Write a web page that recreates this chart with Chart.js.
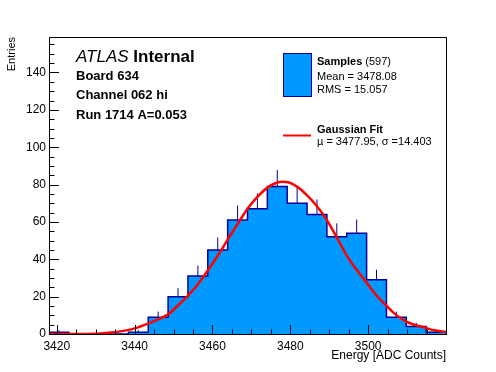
<!DOCTYPE html>
<html lang="en">
<head>
    <meta charset="UTF-8">
    <title>Board 634 Channel 062 hi</title>
    <script src="https://cdn.jsdelivr.net/npm/chart.js"></script>
    <style>
        html, body { margin: 0; padding: 0; background: #ffffff; }
        .chart-wrapper { position: relative; width: 496px; height: 372px; }
    </style>
</head>
<body>
    <div class="chart-wrapper">
        <canvas id="energyChart"></canvas>
    </div>

    <script>
        // Histogram binning (ADC counts)
        const binLow = 3418;
        const binWidth = 5.1;
        const binCounts = [1, 0, 0, 0, 1, 9, 20, 31, 45, 61, 67, 79, 70, 64, 52, 54, 29, 9, 4, 1];
        const binErrors = [1, 0, 0, 0, 1, 3, 4.5, 5.6, 6.7, 7.8, 8.2, 8.9, 8.4, 8, 7.2, 7.3, 5.4, 3, 2, 1];

        // Gaussian fit curve
        const fitX = [3418, 3425, 3430, 3434, 3437.5, 3440.5, 3443.5, 3446, 3448.6, 3451, 3453.7, 3456,
                      3458.8, 3461.4, 3463.9, 3466.5, 3469, 3471.6, 3474.2, 3476.5, 3478, 3479.5, 3482,
                      3484.2, 3486.8, 3489.4, 3492, 3494.5, 3497, 3499.6, 3502, 3504.6, 3507, 3509.7,
                      3512, 3514.8, 3517, 3520];
        const fitY = [0, 0, 0.2, 0.8, 1.8, 3.3, 5.6, 7.8, 10.5, 15, 20.5, 26,
                      34, 42, 50.5, 59, 67, 73.5, 78.5, 81, 81.5, 81.2, 78.5,
                      74.5, 68.5, 61, 51.5, 42, 34.5, 27.5, 21, 15.3, 10.5, 6.8,
                      4.8, 3.3, 2, 1];

        // Axis settings
        const xMin = 3418, xMax = 3520, xStep = 20, xMinor = 5;
        const yMin = 0, yMax = 159, yStep = 20, yMinor = 5;

        const FONT = "'Liberation Sans', Arial, Helvetica, sans-serif";
        const FILL_BLUE = '#0099ff';
        const LINE_BLUE = '#000099';

        // Build histogram step points from bins
        const histPoints = binCounts.map((n, i) => ({x: binLow + i * binWidth, y: n}));
        histPoints.push({x: binLow + binCounts.length * binWidth, y: binCounts[binCounts.length - 1]});

        // Error bars above each bin (upper half only, like the reference)
        const errPoints = [];
        binCounts.forEach((n, i) => {
            if (n <= 0) return;
            const c = binLow + (i + 0.5) * binWidth;
            errPoints.push({x: c, y: n}, {x: c, y: n + binErrors[i]}, {x: c, y: null});
        });

        const fitPoints = fitX.map((x, i) => ({x: x, y: fitY[i]}));

        // ROOT-style frame, inner ticks, labels and legend
        const rootStyle = {
            id: 'rootStyle',
            afterDraw(chart) {
                const ctx = chart.ctx;
                const area = chart.chartArea;
                const xs = chart.scales.x;
                const ys = chart.scales.y;

                ctx.save();
                ctx.strokeStyle = '#000000';
                ctx.lineWidth = 1;
                ctx.strokeRect(Math.round(area.left) + 0.5, Math.round(area.top) + 0.5,
                    Math.round(area.right - area.left), Math.round(area.bottom - area.top));

                ctx.beginPath();
                for (let v = Math.ceil(xMin / xMinor) * xMinor; v <= xMax; v += xMinor) {
                    const px = Math.round(xs.getPixelForValue(v)) + 0.5;
                    const len = (v % xStep === 0) ? 9 : 4.5;
                    ctx.moveTo(px, area.bottom);
                    ctx.lineTo(px, area.bottom - len);
                }
                for (let v = yMin; v <= yMax; v += yMinor) {
                    const py = Math.round(ys.getPixelForValue(v)) + 0.5;
                    const len = (v % yStep === 0) ? 10 : 5.5;
                    ctx.moveTo(area.left, py);
                    ctx.lineTo(area.left + len, py);
                }
                ctx.stroke();

                // top-left labels
                ctx.fillStyle = '#000000';
                ctx.textBaseline = 'middle';
                ctx.textAlign = 'left';
                ctx.font = 'italic 17px ' + FONT;
                ctx.fillText('ATLAS', 76, 57);
                const w = ctx.measureText('ATLAS ').width;
                ctx.font = 'bold 17px ' + FONT;
                ctx.fillText('Internal', 76 + w, 57);
                ctx.font = 'bold 13px ' + FONT;
                ctx.fillText('Board 634', 76, 76);
                ctx.fillText('Channel 062 hi', 76, 95.5);
                ctx.fillText('Run 1714 A=0.053', 76, 115);

                // legend
                ctx.fillStyle = FILL_BLUE;
                ctx.fillRect(283.5, 53.5, 28, 43);
                ctx.strokeStyle = LINE_BLUE;
                ctx.strokeRect(283.5, 53.5, 28, 43);

                ctx.fillStyle = '#000000';
                ctx.font = 'bold 11px ' + FONT;
                ctx.fillText('Samples', 317, 62);
                const sw = ctx.measureText('Samples').width;
                ctx.font = '11px ' + FONT;
                ctx.fillText(' (597)', 317 + sw, 62);
                ctx.fillText('Mean = 3478.08', 317, 77);
                ctx.fillText('RMS = 15.057', 317, 90);

                ctx.strokeStyle = '#ff0000';
                ctx.lineWidth = 2;
                ctx.beginPath();
                ctx.moveTo(283, 135.5);
                ctx.lineTo(311, 135.5);
                ctx.stroke();

                ctx.font = 'bold 11px ' + FONT;
                ctx.fillText('Gaussian Fit', 317, 129.5);
                ctx.font = '11px ' + FONT;
                ctx.fillText('\u00b5 = 3477.95, \u03c3 =14.403', 317, 142);
                ctx.restore();
            }
        };

        const ctx = document.getElementById('energyChart').getContext('2d');
        new Chart(ctx, {
            type: 'line',
            data: {
                datasets: [
                    {
                        label: 'Gaussian Fit',
                        data: fitPoints,
                        borderColor: '#ff0000',
                        borderWidth: 2.5,
                        pointRadius: 0,
                        cubicInterpolationMode: 'monotone',
                        fill: false,
                        order: 0
                    },
                    {
                        label: 'Errors',
                        data: errPoints,
                        borderColor: LINE_BLUE,
                        borderWidth: 1,
                        pointRadius: 0,
                        spanGaps: false,
                        fill: false,
                        order: 1
                    },
                    {
                        label: 'Samples',
                        data: histPoints,
                        stepped: 'before',
                        borderColor: LINE_BLUE,
                        borderWidth: 1.5,
                        backgroundColor: FILL_BLUE,
                        pointRadius: 0,
                        fill: 'origin',
                        order: 2
                    }
                ]
            },
            options: {
                responsive: true,
                maintainAspectRatio: false,
                animation: false,
                layout: {
                    padding: {left: 0, right: 50, top: 37, bottom: 0}
                },
                scales: {
                    x: {
                        type: 'linear',
                        min: xMin,
                        max: xMax,
                        border: {display: false},
                        grid: {display: false, drawTicks: false},
                        afterFit: (scale) => { scale.height = 38; },
                        ticks: {
                            stepSize: xStep,
                            includeBounds: false,
                            maxRotation: 0,
                            padding: 5,
                            color: '#000000',
                            font: {family: FONT, size: 12},
                            callback: (v) => (v >= xMax ? '' : v)
                        },
                        title: {
                            display: true,
                            text: 'Energy [ADC Counts]',
                            align: 'end',
                            color: '#000000',
                            font: {family: FONT, size: 12},
                            padding: {top: 0, bottom: 9}
                        }
                    },
                    y: {
                        type: 'linear',
                        min: yMin,
                        max: yMax,
                        border: {display: false},
                        grid: {display: false, drawTicks: false},
                        afterFit: (scale) => { scale.width = 49; },
                        ticks: {
                            stepSize: yStep,
                            includeBounds: false,
                            padding: 3,
                            color: '#000000',
                            font: {family: FONT, size: 12}
                        },
                        title: {
                            display: true,
                            text: 'Entries',
                            align: 'end',
                            color: '#000000',
                            font: {family: FONT, size: 11},
                            padding: {top: 5, bottom: 0}
                        }
                    }
                },
                plugins: {
                    legend: {display: false},
                    tooltip: {enabled: false}
                }
            },
            plugins: [rootStyle]
        });
    </script>
</body>
</html>
